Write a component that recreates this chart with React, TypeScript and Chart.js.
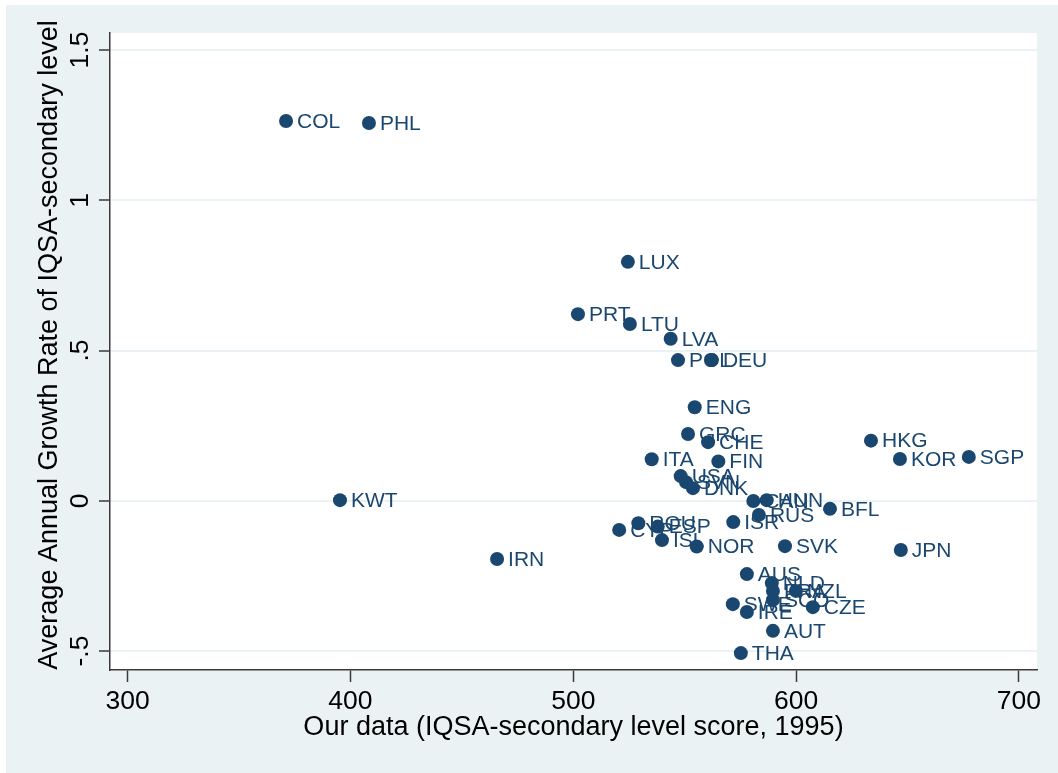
import React, { useEffect, useRef } from "react";
import { Chart, registerables } from "chart.js";

Chart.register(...registerables);

const countries = [
  "COL", "PHL", "LUX", "PRT", "LTU", "LVA", "POL", "DEU", "ENG", "GRC", "CHE",
  "HKG", "KOR", "SGP", "ITA", "FIN", "USA", "SVN", "DNK", "KWT", "CAN", "HUN",
  "BFL", "RUS", "ISR", "CYP", "ROU", "ESP", "ISL", "NOR", "SVK", "JPN", "IRN",
  "AUS", "NLD", "FRA", "NZL", "SCO", "CZE", "SWE", "IRE", "AUT", "THA",
];
const scores = [
  371.1, 408.3, 524.5, 502.1, 525.4, 543.7, 547.0, 562.2, 554.5, 551.5, 560.5,
  633.6, 646.6, 677.5, 535.2, 565.1, 548.2, 550.6, 553.7, 395.3, 580.8, 586.8,
  615.2, 583.3, 571.8, 520.6, 529.2, 537.9, 539.8, 555.4, 595.0, 647.0, 465.8,
  577.9, 589.1, 589.6, 599.9, 589.6, 607.5, 571.6, 577.9, 589.6, 575.2,
];
const growth = [
  1.264, 1.257, 0.795, 0.621, 0.588, 0.539, 0.468, 0.468, 0.311, 0.222, 0.195,
  0.2, 0.139, 0.146, 0.138, 0.131, 0.082, 0.062, 0.042, 0.002, -0.001, 0.002,
  -0.027, -0.047, -0.071, -0.097, -0.075, -0.086, -0.131, -0.152, -0.151, -0.164, -0.194,
  -0.244, -0.274, -0.3, -0.3, -0.33, -0.354, -0.344, -0.37, -0.433, -0.507,
];
const xTicks = [300, 400, 500, 600, 700];
const yTicks = [-0.5, 0, 0.5, 1, 1.5];
const yTickLabels = ["-.5", "0", ".5", "1", "1.5"];
const xTitle = "Our data (IQSA-secondary level score, 1995)";
const yTitle = "Average Annual Growth Rate of IQSA-secondary level";

const NAVY = "#1a476f";
const BG = "#EAF2F3";
const AXIS = "#3a3a3a";
const FONT = "'Liberation Sans', Arial, Helvetica, sans-serif";

export default function App() {
  const ref = useRef<HTMLCanvasElement | null>(null);

  useEffect(() => {
    document.body.style.margin = "0";
    const canvas = ref.current;
    if (!canvas) return;

    const bgPlugin = {
      id: "bgPlugin",
      beforeDraw(chart: any) {
        const { ctx, chartArea } = chart;
        ctx.save();
        ctx.fillStyle = "#ffffff";
        ctx.fillRect(0, 0, chart.width, chart.height);
        ctx.fillStyle = BG;
        ctx.fillRect(6, 5, chart.width - 6, chart.height - 5);
        ctx.fillStyle = "#ffffff";
        ctx.fillRect(chartArea.left, chartArea.top, chartArea.right - chartArea.left, chartArea.bottom - chartArea.top);
        ctx.restore();
      },
      afterDraw(chart: any) {
        const { ctx } = chart;
        const ys = chart.scales.y;
        ctx.save();
        ctx.fillStyle = "#000";
        ctx.font = `26.5px ${FONT}`;
        ctx.textAlign = "center";
        ctx.textBaseline = "middle";
        yTicks.forEach((v, i) => {
          const py = ys.getPixelForValue(v);
          ctx.save();
          ctx.translate(81, py);
          ctx.rotate(-Math.PI / 2);
          ctx.fillText(yTickLabels[i], 0, 0);
          ctx.restore();
        });
        ctx.font = `27px ${FONT}`;
        ctx.save();
        ctx.translate(49.5, 345);
        ctx.rotate(-Math.PI / 2);
        ctx.fillText(yTitle, 0, 0);
        ctx.restore();
        ctx.restore();
      },
      beforeDatasetsDraw(chart: any) {
        const { ctx } = chart;
        const meta = chart.getDatasetMeta(0);
        ctx.save();
        ctx.fillStyle = NAVY;
        ctx.font = `21px ${FONT}`;
        ctx.textAlign = "left";
        ctx.textBaseline = "middle";
        meta.data.forEach((pt: any, i: number) => {
          ctx.fillText(countries[i], pt.x + 11, pt.y + 1);
        });
        ctx.restore();
      },
    };

    const chart = new Chart(canvas, {
      type: "scatter",
      data: {
        datasets: [
          {
            data: scores.map((x, i) => ({ x, y: growth[i] })),
            pointRadius: 7,
            pointHoverRadius: 7,
            backgroundColor: NAVY,
            borderColor: NAVY,
            borderWidth: 0,
          },
        ],
      },
      options: {
        responsive: false,
        animation: false,
        devicePixelRatio: 1,
        layout: { padding: { left: 0, top: 33, right: 21, bottom: 0 } },
        plugins: {
          legend: { display: false },
          tooltip: { enabled: false },
        },
        scales: {
          x: {
            type: "linear",
            min: 292.1,
            max: 708.1,
            afterBuildTicks: (s: any) => {
              s.ticks = xTicks.map((v) => ({ value: v }));
            },
            afterFit: (s: any) => {
              s.height = 103;
            },
            grid: {
              drawOnChartArea: false,
              drawTicks: true,
              tickLength: 12,
              tickColor: AXIS,
              tickWidth: 1.5,
            },
            border: { display: true, color: AXIS, width: 1.5 },
            ticks: {
              color: "#000",
              font: { family: FONT, size: 26.5 },
              padding: 4,
              maxRotation: 0,
              autoSkip: false,
            },
            title: {
              display: true,
              text: xTitle,
              color: "#000",
              font: { family: FONT, size: 27 },
              padding: { top: 0, bottom: 29.4 },
            },
          },
          y: {
            type: "linear",
            min: -0.5632,
            max: 1.5566,
            afterBuildTicks: (s: any) => {
              s.ticks = yTicks.map((v) => ({ value: v }));
            },
            afterFit: (s: any) => {
              s.width = 110;
            },
            grid: {
              color: BG,
              lineWidth: 2,
              drawTicks: true,
              tickLength: 11,
              tickColor: AXIS,
              tickWidth: 1.5,
            },
            border: { display: true, color: AXIS, width: 1.5 },
            ticks: { display: false },
            title: { display: false },
          },
        },
      },
      plugins: [bgPlugin],
    });

    return () => chart.destroy();
  }, []);

  return (
    <canvas
      ref={ref}
      width={1058}
      height={773}
      style={{ display: "block", width: 1058, height: 773 }}
    />
  );
}
